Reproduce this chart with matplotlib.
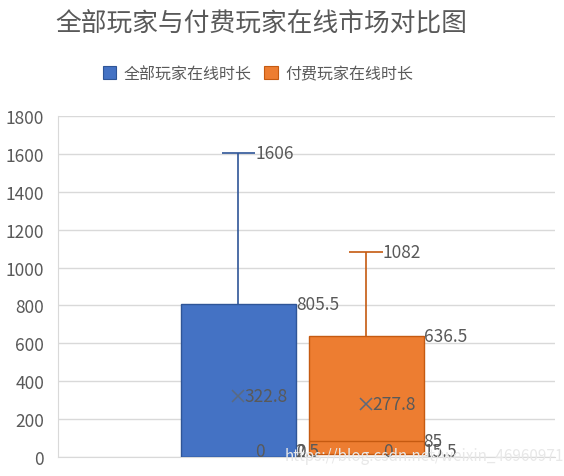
import numpy as np
import matplotlib.pyplot as plt

plt.rcParams['font.family'] = ['Noto Sans CJK SC', 'DejaVu Sans']

title = '全部玩家与付费玩家在线市场对比图'
series = ['全部玩家在线时长', '付费玩家在线时长']
colors = ['#4472C4', '#ED7D31']
edges = ['#2F5597', '#C55A11']
mins = [0, 0]
q1s = [0, 15.5]
medians = [2.5, 85]
q3s = [805.5, 636.5]
maxs = [1606, 1082]
means = [322.8, 277.8]
yticks = [0, 200, 400, 600, 800, 1000, 1200, 1400, 1600, 1800]

def fmt(v):
    return ('%g' % v)

fig = plt.figure(figsize=(5.64, 4.77), dpi=100)
ax = fig.add_axes([0.1028, 0.0398, 0.8812, 0.7149])

# box centres / widths in axes fraction (x from 0 to 1)
centers = [0.363, 0.620]
bw = 0.231
cap = 0.067
txt = '#595959'
fs = 12.5

def label(x, y, v):
    # labels near the floor get pushed up a little, like Excel does
    ax.text(x, max(y, 30), fmt(v), color=txt, fontsize=fs,
            va='center', ha='left', zorder=6)

for i in range(2):
    c = centers[i]
    ax.bar(c, q3s[i] - q1s[i], bottom=q1s[i], width=bw, color=colors[i],
           edgecolor=edges[i], linewidth=1, zorder=3)
    ax.vlines(c, q3s[i], maxs[i], color=edges[i], lw=1.2, zorder=3)
    ax.hlines(maxs[i], c - cap / 2, c + cap / 2, color=edges[i], lw=1.2, zorder=3)
    ax.hlines(medians[i], c - bw / 2, c + bw / 2, color=edges[i], lw=1, zorder=4)
    ax.plot(c, means[i], marker='x', ms=9, mew=1.1, color='#5a6a80', zorder=5)
    label(c + cap / 2, maxs[i], maxs[i])
    label(c + bw / 2, q3s[i], q3s[i])
    label(c + 0.012, means[i], means[i])
    label(c + cap / 2, mins[i], mins[i])
    label(c + bw / 2, q1s[i], q1s[i])
    label(c + bw / 2, medians[i], medians[i])

ax.set_xlim(0, 1)
ax.set_ylim(0, 1800)
ax.set_yticks(yticks)
ax.set_xticks([])
ax.tick_params(axis='y', length=0, labelsize=fs, labelcolor=txt, pad=10)
ax.grid(axis='y', color='#D9D9D9', lw=1, zorder=0)
for s in ['top', 'right']:
    ax.spines[s].set_visible(False)
ax.spines['left'].set_color('#D9D9D9')
ax.spines['bottom'].set_color('#D9D9D9')

fig.text(0.463, 0.949, title, ha='center', va='center', fontsize=18.5, color=txt)

handles = [plt.Rectangle((0, 0), 1, 1, fc=colors[i], ec=edges[i], lw=0.8) for i in range(2)]
fig.legend(handles, series, loc='center', bbox_to_anchor=(0.457, 0.843), ncol=2,
           frameon=False, fontsize=11.5, labelcolor=txt, handlelength=0.85,
           handleheight=0.85, handletextpad=0.45, columnspacing=0.8)

# watermark
fig.text(0.505, 0.042, 'https://blog.csdn.net/weixin_46960971', fontsize=11,
         color='#e8e8e8', ha='left', va='center', zorder=10)

fig.savefig('out.png', dpi=100)
